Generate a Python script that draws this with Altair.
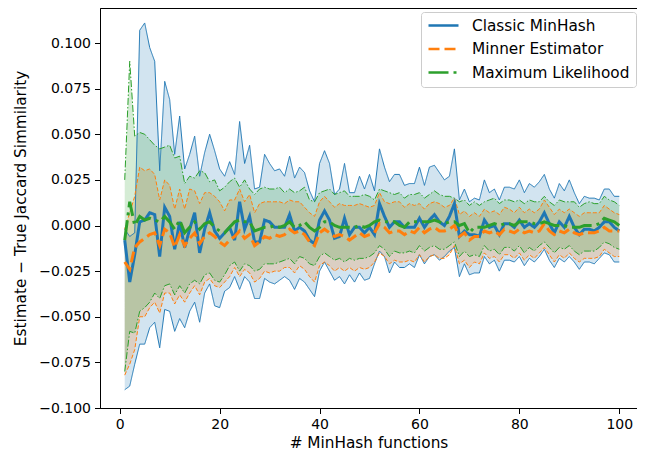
import altair as alt
import pandas as pd

n_hash = list(range(1, 101))
methods = ["Classic MinHash", "Minner Estimator", "Maximum Likelihood"]
colors = ["#1f77b4", "#ff7f0e", "#2ca02c"]

classic_mean = [-0.008, -0.031, -0.016, 0.002, 0.003, 0.007, 0.006, -0.017, 0.010, 0.005,
                -0.013, 0.002, -0.012, -0.002, 0.007, -0.015, -0.002, 0.007, -0.003, -0.007,
                -0.004, -0.001, -0.008, 0.013, -0.002, 0.005, -0.009, -0.009, 0.003, 0.002,
                -0.001, -0.001, -0.001, 0.006, -0.003, -0.001, -0.003, -0.008, -0.010, 0.003,
                0.008, 0.003, -0.007, -0.006, 0.004, -0.005, -0.001, -0.001, -0.004, -0.001,
                -0.005, 0.012, 0.005, -0.001, 0.002, 0.002, -0.001, -0.001, -0.001, 0.004,
                -0.001, 0.003, 0.006, 0.002, 0.000, 0.005, 0.012, -0.006, -0.003, -0.005,
                -0.005, -0.006, 0.003, -0.001, 0.000, -0.005, 0.001, 0.001, -0.001, 0.003,
                -0.001, 0.001, -0.001, 0.002, 0.007, 0.001, -0.004, 0.002, -0.001, 0.005,
                -0.001, -0.005, -0.002, -0.002, -0.003, -0.001, 0.002, 0.002, -0.001, -0.003]
classic_hi = [-0.002, -0.006, -0.004, 0.107, 0.111, 0.0975, 0.090, 0.030, 0.079, 0.069,
              0.039, 0.060, 0.031, 0.039, 0.049, 0.027, 0.040, 0.050, 0.041, 0.031,
              0.027, 0.035, 0.028, 0.057, 0.034, 0.044, 0.020, 0.021, 0.039, 0.034,
              0.030, 0.031, 0.027, 0.038, 0.026, 0.032, 0.029, 0.019, 0.013, 0.034,
              0.041, 0.034, 0.017, 0.020, 0.034, 0.018, 0.018, 0.027, 0.020, 0.028,
              0.019, 0.042, 0.032, 0.024, 0.028, 0.028, 0.022, 0.023, 0.023, 0.032,
              0.022, 0.032, 0.033, 0.029, 0.025, 0.027, 0.042, 0.014, 0.020, 0.013,
              0.015, 0.014, 0.025, 0.018, 0.020, 0.014, 0.021, 0.021, 0.020, 0.025,
              0.018, 0.023, 0.021, 0.024, 0.028, 0.020, 0.015, 0.023, 0.019, 0.025,
              0.018, 0.012, 0.016, 0.015, 0.015, 0.014, 0.020, 0.020, 0.016, 0.016]
classic_lo = [-0.090, -0.088, -0.076, -0.065, -0.065, -0.056, -0.053, -0.067, -0.046, -0.047,
              -0.058, -0.051, -0.056, -0.047, -0.042, -0.053, -0.037, -0.032, -0.044, -0.045,
              -0.036, -0.034, -0.028, -0.035, -0.028, -0.031, -0.040, -0.040, -0.029, -0.031,
              -0.032, -0.030, -0.028, -0.030, -0.035, -0.029, -0.031, -0.035, -0.039, -0.025,
              -0.020, -0.025, -0.030, -0.028, -0.032, -0.027, -0.031, -0.026, -0.030, -0.029,
              -0.021, -0.014, -0.017, -0.026, -0.020, -0.023, -0.023, -0.021, -0.023, -0.016,
              -0.021, -0.017, -0.016, -0.019, -0.017, -0.014, -0.012, -0.028, -0.021, -0.027,
              -0.026, -0.026, -0.017, -0.021, -0.019, -0.025, -0.019, -0.019, -0.020, -0.017,
              -0.022, -0.018, -0.020, -0.017, -0.013, -0.019, -0.023, -0.018, -0.020, -0.017,
              -0.020, -0.024, -0.020, -0.020, -0.021, -0.018, -0.015, -0.016, -0.020, -0.020]

minner_mean = [-0.020, -0.024, -0.012, -0.009, -0.007, -0.005, -0.004, -0.011, -0.002, -0.004,
               -0.012, -0.005, -0.011, -0.007, -0.004, -0.010, -0.006, -0.004, -0.006, -0.009,
               -0.011, -0.008, -0.006, -0.003, -0.007, -0.005, -0.011, -0.009, -0.006, -0.007,
               -0.005, -0.006, -0.005, -0.002, -0.004, -0.003, -0.005, -0.009, -0.011, -0.004,
               -0.002, -0.004, -0.006, -0.005, -0.006, -0.008, -0.006, -0.004, -0.006, -0.005,
               -0.004, 0.001, -0.001, -0.004, -0.003, -0.003, -0.005, -0.003, -0.004, -0.001,
               -0.004, -0.002, -0.001, -0.003, -0.003, -0.002, 0.000, -0.006, -0.004, -0.008,
               -0.006, -0.006, -0.003, -0.004, -0.003, -0.005, -0.002, -0.003, -0.004, -0.002,
               -0.004, -0.003, -0.004, -0.003, 0.001, -0.003, -0.005, -0.003, -0.004, -0.002,
               -0.004, -0.005, -0.004, -0.004, -0.004, -0.003, -0.001, -0.003, -0.003, -0.003]
minner_hi = [-0.002, 0.007, 0.016, 0.032, 0.030, 0.031, 0.028, 0.014, 0.025, 0.022,
             0.009, 0.020, 0.009, 0.020, 0.019, 0.012, 0.018, 0.018, 0.016, 0.013,
             0.008, 0.014, 0.014, 0.020, 0.013, 0.017, 0.007, 0.012, 0.013, 0.013,
             0.013, 0.013, 0.012, 0.014, 0.013, 0.013, 0.010, 0.007, 0.005, 0.013,
             0.016, 0.013, 0.010, 0.012, 0.011, 0.011, 0.011, 0.012, 0.011, 0.010,
             0.011, 0.018, 0.013, 0.012, 0.013, 0.013, 0.010, 0.012, 0.011, 0.012,
             0.009, 0.012, 0.013, 0.012, 0.010, 0.011, 0.015, 0.006, 0.008, 0.005,
             0.007, 0.005, 0.009, 0.007, 0.008, 0.006, 0.010, 0.009, 0.007, 0.010,
             0.007, 0.009, 0.007, 0.009, 0.014, 0.010, 0.006, 0.009, 0.007, 0.009,
             0.007, 0.005, 0.007, 0.007, 0.007, 0.007, 0.011, 0.009, 0.007, 0.006]
minner_lo = [-0.082, -0.076, -0.068, -0.050, -0.050, -0.045, -0.042, -0.048, -0.037, -0.037,
             -0.043, -0.038, -0.042, -0.037, -0.033, -0.038, -0.031, -0.029, -0.033, -0.034,
             -0.031, -0.028, -0.023, -0.028, -0.024, -0.026, -0.031, -0.029, -0.025, -0.026,
             -0.025, -0.025, -0.023, -0.023, -0.026, -0.022, -0.024, -0.028, -0.031, -0.022,
             -0.020, -0.022, -0.025, -0.023, -0.025, -0.023, -0.025, -0.023, -0.024, -0.023,
             -0.020, -0.015, -0.017, -0.021, -0.019, -0.020, -0.020, -0.019, -0.020, -0.016,
             -0.020, -0.017, -0.016, -0.018, -0.018, -0.016, -0.011, -0.021, -0.019, -0.023,
             -0.020, -0.021, -0.015, -0.018, -0.017, -0.020, -0.016, -0.016, -0.018, -0.015,
             -0.019, -0.016, -0.018, -0.015, -0.012, -0.016, -0.020, -0.016, -0.018, -0.015,
             -0.018, -0.020, -0.018, -0.018, -0.018, -0.017, -0.013, -0.015, -0.017, -0.017]

ml_mean = [-0.008, 0.013, 0.000, 0.005, 0.003, 0.004, 0.003, 0.002, 0.005, 0.002,
           -0.002, 0.003, -0.004, -0.001, 0.002, -0.002, 0.001, 0.002, -0.001, -0.003,
           -0.004, -0.001, 0.002, 0.003, 0.002, 0.002, -0.003, -0.002, -0.001, -0.001,
           0.000, -0.001, 0.000, 0.002, -0.001, 0.000, 0.002, -0.001, -0.003, -0.001,
           0.002, 0.002, 0.000, -0.001, -0.001, -0.001, -0.001, 0.000, -0.001, 0.000,
           0.002, 0.003, 0.002, 0.002, 0.002, 0.000, -0.001, 0.002, 0.002, 0.002,
           0.002, 0.002, 0.003, 0.002, 0.001, 0.002, 0.002, 0.000, 0.001, -0.004,
           -0.001, -0.001, -0.001, 0.000, 0.001, 0.000, 0.001, 0.001, 0.000, 0.002,
           0.002, 0.002, 0.001, 0.001, 0.002, 0.001, 0.000, 0.000, 0.000, -0.001,
           -0.001, -0.001, 0.000, 0.000, 0.000, 0.001, 0.004, 0.003, 0.002, 0.000]
ml_hi = [0.025, 0.090, 0.049, 0.051, 0.050, 0.047, 0.044, 0.042, 0.043, 0.044,
         0.037, 0.038, 0.023, 0.027, 0.026, 0.030, 0.029, 0.024, 0.025, 0.019,
         0.021, 0.024, 0.026, 0.021, 0.025, 0.020, 0.017, 0.020, 0.021, 0.020,
         0.020, 0.021, 0.018, 0.020, 0.018, 0.019, 0.021, 0.014, 0.013, 0.018,
         0.019, 0.020, 0.017, 0.018, 0.019, 0.016, 0.016, 0.016, 0.017, 0.016,
         0.014, 0.020, 0.019, 0.018, 0.017, 0.018, 0.015, 0.017, 0.017, 0.018,
         0.015, 0.017, 0.019, 0.017, 0.016, 0.016, 0.015, 0.013, 0.014, 0.011,
         0.013, 0.011, 0.013, 0.014, 0.015, 0.012, 0.014, 0.014, 0.013, 0.014,
         0.012, 0.014, 0.013, 0.013, 0.016, 0.013, 0.011, 0.014, 0.013, 0.013,
         0.013, 0.010, 0.012, 0.013, 0.012, 0.012, 0.016, 0.014, 0.013, 0.011]
ml_lo = [-0.080, -0.058, -0.059, -0.047, -0.045, -0.042, -0.037, -0.040, -0.033, -0.032,
         -0.038, -0.033, -0.037, -0.032, -0.030, -0.032, -0.027, -0.026, -0.030, -0.031,
         -0.027, -0.022, -0.020, -0.025, -0.021, -0.022, -0.025, -0.024, -0.021, -0.021,
         -0.021, -0.020, -0.019, -0.018, -0.021, -0.017, -0.018, -0.021, -0.022, -0.017,
         -0.015, -0.017, -0.019, -0.018, -0.020, -0.018, -0.019, -0.018, -0.018, -0.017,
         -0.015, -0.011, -0.013, -0.017, -0.014, -0.015, -0.015, -0.014, -0.015, -0.011,
         -0.014, -0.012, -0.011, -0.013, -0.013, -0.011, -0.009, -0.017, -0.014, -0.017,
         -0.016, -0.017, -0.011, -0.014, -0.013, -0.016, -0.012, -0.012, -0.014, -0.011,
         -0.015, -0.012, -0.014, -0.011, -0.009, -0.012, -0.015, -0.012, -0.013, -0.011,
         -0.014, -0.016, -0.014, -0.014, -0.014, -0.012, -0.009, -0.010, -0.012, -0.013]

series = {
    "Classic MinHash": (classic_mean, classic_lo, classic_hi),
    "Minner Estimator": (minner_mean, minner_lo, minner_hi),
    "Maximum Likelihood": (ml_mean, ml_lo, ml_hi),
}

rows = []
for m in methods:
    mean, lo, hi = series[m]
    for i, k in enumerate(n_hash):
        rows.append({"n": k, "method": m, "mean": mean[i], "lo": lo[i], "hi": hi[i]})
df = pd.DataFrame(rows)

font = "DejaVu Sans"
y_title = "Estimate \u2212 True Jaccard Simmilarity"
x_scale = alt.Scale(domain=[-3.95, 103.55], nice=False, zero=False)
y_scale = alt.Scale(domain=[-0.1, 0.1192], nice=False, zero=False)
x_axis = alt.Axis(values=[0, 20, 40, 60, 80, 100], format="d", title="# MinHash functions")
y_axis = alt.Axis(values=[-0.1, -0.075, -0.05, -0.025, 0.0, 0.025, 0.05, 0.075, 0.1],
                  format=".3f", title=y_title)

thick_dash = [[1, 0], [11, 5], [20, 5, 3, 5]]
thin_dash = [[1, 0], [4, 2], [7, 2, 1.5, 2]]

base = alt.Chart(df)
layers = []
for m, c in zip(methods, colors):
    layers.append(
        base.transform_filter(alt.datum.method == m)
        .mark_area(color=c, opacity=0.2)
        .encode(x=alt.X("n:Q", scale=x_scale, axis=x_axis),
                y=alt.Y("hi:Q", scale=y_scale, axis=y_axis),
                y2="lo:Q")
    )
for m, c, d in zip(methods, colors, thin_dash):
    for fld in ["lo", "hi"]:
        layers.append(
            base.transform_filter(alt.datum.method == m)
            .mark_line(color=c, strokeWidth=1, strokeDash=d)
            .encode(x=alt.X("n:Q", scale=x_scale, axis=x_axis),
                    y=alt.Y(f"{fld}:Q", scale=y_scale, axis=y_axis))
        )

layers.append(
    base.mark_line(strokeWidth=3)
    .encode(
        x=alt.X("n:Q", scale=x_scale, axis=x_axis),
        y=alt.Y("mean:Q", scale=y_scale, axis=y_axis),
        color=alt.Color("method:N", scale=alt.Scale(domain=methods, range=colors), title=None),
        strokeDash=alt.StrokeDash("method:N", scale=alt.Scale(domain=methods, range=thick_dash), title=None),
        order=alt.Order("n:Q"),
    )
)

chart = alt.layer(*layers).properties(
    width=537, height=400,
    padding={"left": 92, "top": 0, "right": 0, "bottom": 49},
    autosize=alt.AutoSizeParams(type="none"),
).configure_view(
    stroke="black", strokeWidth=1
).configure_axis(
    grid=False, domainColor="black", tickColor="black", labelColor="black", titleColor="black",
    labelFont=font, titleFont=font, labelFontSize=14, titleFontSize=15.3, titleFontWeight="normal",
    tickSize=5.5, labelPadding=4,
).configure_axisY(
    titlePadding=10
).configure_axisX(
    titlePadding=4
).configure_legend(
    orient="none", legendX=321, legendY=4, fillColor="white", strokeColor="#cccccc",
    cornerRadius=3, padding=6, labelFont=font, labelFontSize=15.3, labelColor="black",
    symbolType="stroke", symbolSize=900, symbolStrokeWidth=2.5, rowPadding=7.5, labelOffset=12,
    clipHeight=15, labelLimit=300,
)

chart.save("out.html", embed_options={"renderer": "svg", "actions": False})
